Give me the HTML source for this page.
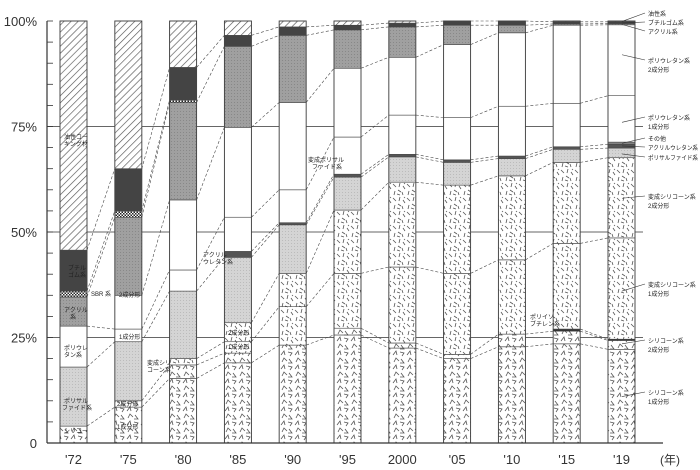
<!DOCTYPE html>
<html><head><meta charset="utf-8">
<style>
body{margin:0;background:#fff;}
svg{display:block;font-family:"Liberation Sans","Noto Sans CJK JP",sans-serif;}
</style></head>
<body>
<svg id="chart" width="700" height="470" viewBox="0 0 700 470" xmlns="http://www.w3.org/2000/svg">
<defs>
<pattern id="p-oil" width="5" height="5" patternUnits="userSpaceOnUse" patternTransform="rotate(45)"><rect width="5" height="5" fill="#fff"/><line x1="0" y1="0" x2="0" y2="5" stroke="#555" stroke-width="1.3"/></pattern>
<pattern id="p-sbr" width="3" height="3" patternUnits="userSpaceOnUse"><rect width="3" height="3" fill="#fff"/><rect width="1.5" height="1.5" fill="#222"/><rect x="1.5" y="1.5" width="1.5" height="1.5" fill="#222"/></pattern>
<pattern id="p-acr" width="3" height="3" patternUnits="userSpaceOnUse"><rect width="3" height="3" fill="#a0a0a0"/><rect width="1" height="1" fill="#888"/></pattern>
<pattern id="p-ps" width="3" height="3" patternUnits="userSpaceOnUse"><rect width="3" height="3" fill="#d4d4d4"/><rect width="1" height="1" fill="#bbb"/></pattern>
<pattern id="p-ms" width="14" height="14" patternUnits="userSpaceOnUse"><rect width="14" height="14" fill="#fff"/><path d="M1 2l3 3M8 1l-1 4M11 4l2 3M3 9l-1 4M6 8l3 2M10 10l1 3M5 12l3 1M12 1l1 1" stroke="#555" stroke-width=".8"/></pattern>
<pattern id="p-si" width="14" height="14" patternUnits="userSpaceOnUse"><rect width="14" height="14" fill="#fff"/><path d="M1 5l3-4 1 4M8 2l4 1-2 3M2 12l2-4 3 3M9 9l3 4-4 0" stroke="#555" stroke-width=".8" fill="none"/></pattern>
</defs>
<g id="grid"></g><g id="links"></g><g id="bars"></g><g id="axes"></g><g id="labels"></g>
</svg>
<script>
const years = ["'72","'75","'80","'85","'90","'95","2000","'05","'10","'15","'19"];
const sil1 = [4,8.5,15.3,19,23.2,25.6,22.5,20,22.8,23.5,22.2];
const sil2 = [0,1.5,3.2,2.3,0,1.6,1.2,1,3,3,2.1];
const pib = [0,0,0,0,0,0,0,0,0,0.5,0.3];
const modsil1 = [0,0,1.5,2.7,9.1,13,18,19.2,17.6,20.3,24];
const modsil2 = [0,0,0,4.5,7.9,15,20.1,20.9,19.9,19.2,19];
const polysulfide = [14,14,16,15.5,11.5,7.8,6,5.4,4.1,3.1,2.3];
const acrylUrethane = [0,0,0,1.4,0.5,0.7,0.6,0.6,0.6,0.6,0.9];
const other = [0,0,0,0,0,0,0,0,0,0,0.5];
const pu1 = [9.7,3,5,8.1,7.8,8.8,9.3,10,11.8,10.3,11];
const pu2 = [0,8,16.6,21.3,20.7,16.3,13.7,17.3,17.4,18.5,16.8];
const acrylic = [6.9,18.5,23.1,19.2,15.9,9.1,7.2,4.6,1.8,0.3,0.3];
const sbr = [1.4,1.5,0.6,0,0,0,0,0,0,0,0];
const butyl = [9.7,10,7.7,2.6,2,1.1,0.9,1,1,0.5,0.4];
const oil = [54.3,35,11,3.4,1.4,1,0.5,0,0,0.2,0.2];
const yTicks = ["0","25%","50%","75%","100%"];

const series = [
 ["silicone-1",sil1,"url(#p-si)"],["silicone-2",sil2,"url(#p-si)"],["polyisobutylene",pib,"#333"],
 ["modified-silicone-1",modsil1,"url(#p-ms)"],["modified-silicone-2",modsil2,"url(#p-ms)"],
 ["polysulfide",polysulfide,"url(#p-ps)"],["acryl-urethane",acrylUrethane,"#555"],["other",other,"#888"],
 ["polyurethane-1",pu1,"#fff"],["polyurethane-2",pu2,"#fff"],["acrylic",acrylic,"url(#p-acr)"],
 ["sbr",sbr,"url(#p-sbr)"],["butyl-rubber",butyl,"#444"],["oil-based",oil,"url(#p-oil)"]];

const NS="http://www.w3.org/2000/svg";
const y = p => 443 - p*4.22;
const xL = i => 60 + i*54.8;
const BW = 27;
function mk(tag,attrs,parent){const e=document.createElementNS(NS,tag);for(const k in attrs)e.setAttribute(k,attrs[k]);parent.appendChild(e);return e;}
const G=id=>document.getElementById(id);

[25,50,75].forEach(v=>{
 const l=mk("line",{x1:47,x2:643,y1:y(v),y2:y(v),stroke:"#333","stroke-width":0.8},G("grid"));
 
 
});
const ax=mk("line",{x1:47,x2:47,y1:y(100),y2:443,stroke:"#333","stroke-width":1.2},G("axes"));


const bx=mk("line",{x1:47,x2:663,y1:443,y2:443,stroke:"#333","stroke-width":1.2},G("axes"));


for(let v=0;v<=100;v+=5){
 const t=mk("line",{x1:47,x2:53,y1:y(v),y2:y(v),stroke:"#333","stroke-width":0.8},G("axes"));
 
 
}
yTicks.forEach((s,i)=>{
 const t=mk("text",{x:37,y:y(i*25)+5,"text-anchor":"end","font-size":13,fill:"#333"},G("axes"));
 t.textContent=s;
 
 
});
years.forEach((s,i)=>{
 const t=mk("text",{x:xL(i)+BW/2,y:464,"text-anchor":"middle","font-size":13,fill:"#333"},G("axes"));
 t.textContent=s;
 
 
});
const unit=mk("text",{x:660,y:464,"font-size":12,fill:"#333"},G("axes"));
unit.textContent="(年)";



const tops=[];
years.forEach((yr,i)=>{
 let cum=0; tops[i]=[];
 series.forEach(([name,arr,fill],s)=>{
  const v=arr[i];
  if(v>0){
   const r=mk("rect",{x:xL(i),y:y(cum+v),width:BW,height:v*4.22,fill:fill,stroke:"#444","stroke-width":0.6},G("bars"));
   
   
  }
  cum+=v; tops[i][s]=v>0?cum:null;
 });
 const o=mk("rect",{x:xL(i),y:y(100),width:BW,height:100*4.22,fill:"none",stroke:"#444","stroke-width":0.9},G("bars"));
 
 
});
for(let i=0;i<years.length-1;i++){
 series.forEach((s,k)=>{
  if(k===series.length-1)return;
  const a=tops[i][k],b=tops[i+1][k];
  if(a!=null&&b!=null){
   const l=mk("line",{x1:xL(i)+BW,y1:y(a),x2:xL(i+1),y2:y(b),stroke:"#444","stroke-width":0.6,"stroke-dasharray":"3,2"},G("links"));
   
   
  }
 });
}
const rl=[["油性系",null,16,99.9],["ブチルゴム系",null,25,99.5],["アクリル系",null,34,99.2],
["ポリウレタン系","2成分形",63,92],["ポリウレタン系","1成分形",120,76],["その他",null,141,71],
["アクリルウレタン系",null,150,70.4],["ポリサルファイド系",null,160,68.5],
["変成シリコーン系","2成分形",199,58],["変成シリコーン系","1成分形",287,36],
["シリコーン系","2成分形",343,23.5],["シリコーン系","1成分形",395,11]];
rl.forEach(([a,b,ty,p])=>{
 const l=mk("line",{x1:622,y1:y(p),x2:645,y2:ty-3,stroke:"#333","stroke-width":0.6},G("labels"));
 
 
 const t=mk("text",{x:648,y:ty,"font-size":6,fill:"#222"},G("labels"));
 t.textContent=a;
 if(a.length>8){t.setAttribute('textLength','50');t.setAttribute('lengthAdjust','spacingAndGlyphs');}
 
 
 if(b){const t2=mk("text",{x:648,y:ty+9,"font-size":6,fill:"#222"},G("labels"));
 t2.textContent=b;
 
 }
});
const il=[[64,139,"油性コー"],[64,146,"キング材"],[68,270,"ブチル"],[68,277,"ゴム系"],[91,296,"SBR 系"],
[64,312,"アクリル"],[70,319,"系"],[64,350,"ポリウレ"],[64,357,"タン系"],[64,403,"ポリサル"],[62,410,"ファイド系"],
[64,433,"シリコー"],[119,297,"2成分形"],[119,339,"1成分形"],[117,406,"2成分形"],[117,429,"1成分形"],
[147,365,"変成シリ"],[147,372,"コーン系"],[203,257,"アクリル"],[203,264,"ウレタン系"],[228,335,"2成分形"],[228,349,"1成分形"],
[308,162,"変成ポリサル"],[312,169,"ファイド系"],[530,319,"ポリイソ"],[530,326,"ブチレン系"]];
il.forEach(([x0,y0,s])=>{
 const t=mk("text",{x:x0,y:y0,"font-size":6,fill:"#222"},G("labels"));
 t.textContent=s;
 
 
});
</script>
</body></html>
